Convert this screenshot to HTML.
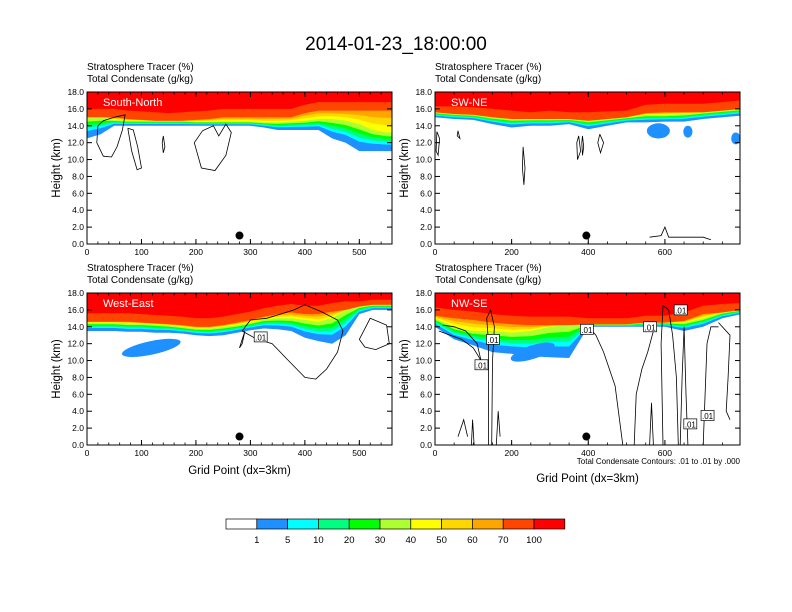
<!DOCTYPE html>
<html><head><meta charset="utf-8"><style>
body{margin:0;background:#fff;}
svg{display:block;font-family:"Liberation Sans",Arial,sans-serif;}
</style></head><body>
<svg id="chart" width="792" height="612" viewBox="0 0 792 612">
<text x="396" y="50" font-size="19" text-anchor="middle">2014-01-23_18:00:00</text>
<g id="panels"></g>
<g id="colorbar"></g>
</svg>
<script>
// colour levels
const levelLabels = ["1","5","10","20","30","40","50","60","70","100"];
const levelColors = ["#ffffff","#1e90ff","#00ffff","#00ff80","#00ff00","#adff2f","#ffff00","#ffd700","#ffa500","#ff4500","#ff0000"];

// Panel 1 South-North (x 0..550 step 25)
const p1X = [0,25,50,75,100,125,150,175,200,225,250,275,300,325,350,375,400,425,450,475,500,525,550];
const p1Bottom = [12.5,13,14,14,14,14,14,14,14,14,14,14,14,13.8,13.5,13.5,13.5,13.5,12.5,12,11,11,11];
const p1Mid = [15,15,14.7,14.6,14.6,14.6,14.6,14.6,14.5,14.5,14.5,14.5,14.5,14.4,14.4,14.5,14.6,14.8,14.8,14.6,14.2,13.5,13.2];
const p1Top = [16,16,16,15.8,15.7,15.6,15.5,15.6,15.7,15.8,16,16,16,16,16,16,16.5,16.8,16.8,16.8,16.8,16.8,16.8];
// Panel 2 SW-NE (x 0..800 step 50)
const p2X = [0,50,100,150,200,250,300,350,400,450,500,550,600,650,700,750,800];
const p2Bottom = [15,14.8,14.7,14.2,13.8,14,14,14.2,13.6,14,14.4,14.4,14.5,14.5,14.8,15,15.2];
const p2Mid = [15.6,15.4,15.3,15,14.8,14.8,14.8,14.8,14.6,14.8,15,15.3,15.3,15.4,15.6,15.8,16];
const p2Top = [16.3,16.3,16.2,16,15.8,15.6,15.8,15.6,15.6,15.7,15.8,16.5,16.6,16.6,16.6,16.8,17];
// Panel 3 West-East
const p3X = p1X;
const p3Bottom = [13.5,13.5,13.5,13.4,13.4,13.3,13.3,13.2,13,12.9,13,13.3,13.6,13.8,13.7,13.5,12.7,12.3,12,13,15.5,16,16];
const p3Mid = [14.5,14.5,14.5,14.4,14.4,14.3,14.2,14.0,13.8,13.8,14,14.2,14.5,14.9,15,15,14.8,14.6,15,16,16.4,16.6,16.6];
const p3Top = [15.6,15.6,15.6,15.6,15.5,15.4,15.3,15.2,15,15,15.2,15.5,15.8,16.2,16.5,16.7,16.5,16.5,16.8,17,17,17.2,17.2];
// Panel 4 NW-SE
const p4X = p2X;
const p4Bottom = [14,12.5,11.8,11,10.8,10.5,10.4,10.3,14,14,14,14,14,13.5,14,15,15.5];
const p4Mid = [15,14,13.5,13.5,13.3,13.5,14,14.2,14.3,14.3,14.3,14.5,14.5,14.5,15,15.7,16];
const p4Top = [16.3,16,15.8,15.5,15.3,15.2,15.2,15.2,15.0,15,15,15.3,15.3,15.7,16.5,16.7,16.8];

const lowerFrac=[0,0.35,0.5,0.65,0.8,1];
const NS="http://www.w3.org/2000/svg";
function mk(tag,attrs,parent){const e=document.createElementNS(NS,tag);for(const k in attrs)e.setAttribute(k,attrs[k]);if(parent)parent.appendChild(e);return e;}

const panels=[
 {id:"south-north",label:"South-North",x0:87,y0:92,xmax:560,xticks:[0,100,200,300,400,500],minor:20,X:p1X,B:p1Bottom,M:p1Mid,T:p1Top,dot:280,xtitle:false,
  blobs:[],
  contours:[[[20,14],[30,14.6],[50,15],[70,15.3],[65,13.5],[55,11.5],[45,10.3],[30,10.4],[18,12],[20,14]],
   [[75,13.7],[85,13.5],[93,11.5],[100,9],[92,8.8],[82,11],[75,13.7]],
   [[212,13.4],[232,14],[242,12.8],[255,14.2],[265,13.2],[255,10.5],[235,8.7],[210,9],[197,12],[212,13.4]],
   [[140,12.8],[143,11.5],[140,10.8],[138,12],[140,12.8]]],
  labels:[]},
 {id:"sw-ne",label:"SW-NE",x0:435,y0:92,xmax:796,xticks:[0,200,400,600],minor:50,X:p2X,B:p2Bottom,M:p2Mid,T:p2Top,dot:395,xtitle:false,
  blobs:[[583,13.4,30,0.9],[660,13.3,12,0.7],[785,12.5,12,0.7]],
  contours:[[[5,13.3],[12,12.5],[8,10.5],[3,11],[5,13.3]],[[60,13.4],[65,12.5],[58,12.8],[60,13.4]],
   [[230,11.5],[235,9],[232,7],[228,9],[230,11.5]],[[375,12.8],[380,11],[372,10],[370,12],[375,12.8]],
   [[385,12.8],[388,11.5],[385,10.5],[383,12],[385,12.8]],[[430,13],[440,12],[432,10.8],[425,12],[430,13]],
   [[560,0.8],[590,1],[600,2],[610,0.8],[700,0.8],[720,0.5]]],
  labels:[]},
 {id:"west-east",label:"West-East",x0:87,y0:293,xmax:560,xticks:[0,100,200,300,400,500],minor:20,X:p3X,B:p3Bottom,M:p3Mid,T:p3Top,dot:280,xtitle:true,
  blobs:[[118,11.5,55,0.8,-12]],
  contours:[[[285,13.5],[300,14.8],[330,15],[350,15.4],[380,16],[400,16.6],[430,15.8],[460,14.8],[470,13.5],[460,11],[440,9],[420,7.8],[400,8],[370,10],[340,12],[310,12.6],[285,13.5]],
   [[500,12.5],[520,15],[550,14.2],[555,12],[530,11.3],[510,11.6],[500,12.5]],
   [[285,12],[290,13.5],[280,11.5],[285,12]]],
  labels:[[318,12.8]]},
 {id:"nw-se",label:"NW-SE",x0:435,y0:293,xmax:796,xticks:[0,200,400,600],minor:50,X:p4X,B:p4Bottom,M:p4Mid,T:p4Top,dot:395,xtitle:true,
  blobs:[[255,11,60,0.8,-18]],
  contours:[[[380,14],[400,14],[420,13],[440,11],[470,7],[490,0]],
   [[520,0],[525,6],[540,9],[555,11],[570,13.5],[560,14]],
   [[140,0],[140,12],[135,15],[145,16],[155,14],[150,10],[148,0]],
   [[595,0],[590,12],[595,16.5],[610,16],[620,13],[630,8],[635,0]],
   [[700,0],[705,6],[710,12],[720,14],[740,14]],[[740,14.5],[770,13],[765,8],[760,4],[770,3]],
   [[10,13.5],[40,13],[70,12.5],[100,11.5],[120,10],[110,12],[80,13.5],[50,14],[20,14.2]],
   [[60,1],[75,3],[85,1]],[[95,0],[98,3],[102,0]],[[160,0],[165,4],[170,1]],
   [[640,0],[645,8],[650,14],[655,6],[660,0]],[[560,0],[565,5],[570,0]]],
  labels:[[120,9.5],[150,12.5],[395,13.7],[560,14],[640,16],[710,3.5],[665,2.5]]}
];
const W=305,H=152;
const root=document.getElementById("panels");
panels.forEach(p=>{
  const g=mk("g",{},root);
  
  
  const sx=v=>p.x0+v/p.xmax*W, sy=k=>p.y0+H-k/18*H;
  const cid="clip-"+p.id;
  const cp=mk("clipPath",{id:cid},g); mk("rect",{x:p.x0,y:p.y0,width:W,height:H},cp);
  const fg=mk("g",{"clip-path":"url(#"+cid+")"},g);
  
  
  const bound=(k,i)=>{
    if(k<=5) return p.B[i]+(p.M[i]-p.B[i])*lowerFrac[k];
    if(k===9) return p.T[i];
    const t2=Math.max(p.M[i],p.T[i]-1.0);
    return p.M[i]+(t2-p.M[i])*(k-5)/3;
  };
  for(let k=0;k<10;k++){
    const pts=p.X.map((x,i)=>sx(x).toFixed(1)+","+sy(bound(k,i)).toFixed(1));
    const n=p.X.length-1;
    pts.push(sx(p.X[n]+50)+","+sy(bound(k,n)).toFixed(1));
    pts.push(sx(p.X[n]+50)+","+(p.y0-2)); pts.push(sx(-10)+","+(p.y0-2)); pts.unshift(sx(-10)+","+sy(bound(k,0)).toFixed(1));
    const poly=mk("polygon",{points:pts.join(" "),fill:levelColors[k+1]},fg);
    
    
  }
  p.blobs.forEach(b=>{
    const cx=sx(b[0]),cy=sy(b[1]);
    const e=mk("ellipse",{cx:cx,cy:cy,rx:b[2]/p.xmax*W,ry:b[3]/18*H,fill:"#1e90ff",transform:"rotate("+(b[4]||0)+" "+cx+" "+cy+")"},fg);
    
    
  });
  p.contours.forEach(c=>{
    const pl=mk("polyline",{points:c.map(q=>sx(q[0]).toFixed(1)+","+sy(q[1]).toFixed(1)).join(" "),fill:"none",stroke:"#000","stroke-width":"0.8"},fg);
    
    
  });
  p.labels.forEach(l=>{
    const x=sx(l[0]),y=sy(l[1]);
    mk("rect",{x:x-6,y:y-5,width:13,height:10,fill:"#fff",stroke:"#000","stroke-width":"0.7"},fg);
    const t=mk("text",{x:x+0.5,y:y+3.5,"font-size":"8","text-anchor":"middle"},fg); t.textContent=".01";
    
    
  });
  const lab=mk("text",{x:p.x0+16,y:p.y0+14,"font-size":"11",fill:"#fff"},g); lab.textContent=p.label;
  
  
  const dot=mk("circle",{cx:sx(p.dot),cy:sy(1),r:4,fill:"#000"},g);
  
  
  mk("rect",{x:p.x0,y:p.y0,width:W,height:H,fill:"none",stroke:"#000","stroke-width":"1"},g);
  for(let k=0;k<=18;k+=2){
    const y=sy(k);
    mk("line",{x1:p.x0,x2:p.x0+5,y1:y,y2:y,stroke:"#000"},g);
    mk("line",{x1:p.x0+W,x2:p.x0+W-5,y1:y,y2:y,stroke:"#000"},g);
    const t=mk("text",{x:p.x0-3,y:y+3,"font-size":"8.5","text-anchor":"end"},g); t.textContent=k.toFixed(1);
    
    
  }
  for(let v=0;v<=p.xmax;v+=p.minor){
    const x=sx(v);
    mk("line",{x1:x,x2:x,y1:p.y0+H,y2:p.y0+H-2.5,stroke:"#000","stroke-width":"0.8"},g);
    mk("line",{x1:x,x2:x,y1:p.y0,y2:p.y0+2.5,stroke:"#000","stroke-width":"0.8"},g);
  }
  p.xticks.forEach(v=>{
    const x=sx(v);
    mk("line",{x1:x,x2:x,y1:p.y0+H,y2:p.y0+H-5,stroke:"#000"},g);
    mk("line",{x1:x,x2:x,y1:p.y0,y2:p.y0+5,stroke:"#000"},g);
    const t=mk("text",{x:x,y:p.y0+H+11,"font-size":"8.5","text-anchor":"middle"},g); t.textContent=v;
    
    
  });
  const s1=mk("text",{x:p.x0,y:p.y0-22,"font-size":"10"},g); s1.textContent="Stratosphere Tracer   (%)";
  
  
  const s2=mk("text",{x:p.x0,y:p.y0-10,"font-size":"10"},g); s2.textContent="Total Condensate   (g/kg)";
  
  
  const yt=mk("text",{x:0,y:0,"font-size":"11.5","text-anchor":"middle",transform:"translate("+(p.x0-27)+","+(p.y0+H/2)+") rotate(-90)"},g); yt.textContent="Height (km)";
  
  
  if(p.xtitle){
    const off = p.id==="nw-se"?37:29;
    const xt=mk("text",{x:p.x0+W/2,y:p.y0+H+off,"font-size":"11.5","text-anchor":"middle"},g); xt.textContent="Grid Point (dx=3km)";
    
    
  }
  if(p.id==="nw-se"){
    const ci=mk("text",{x:p.x0+W,y:p.y0+H+19,"font-size":"8","text-anchor":"end"},g); ci.textContent="Total Condensate Contours: .01 to .01 by .000";
    
    
  }
});
const cb=document.getElementById("colorbar");
const bx0=226,bw=30.8,by=519,bh=10;
levelColors.forEach((c,i)=>{
  const r=mk("rect",{x:bx0+i*bw,y:by,width:bw,height:bh,fill:c,stroke:"#000","stroke-width":"0.7"},cb);
  
  
});
levelLabels.forEach((l,i)=>{
  const t=mk("text",{x:bx0+(i+1)*bw,y:by+bh+14,"font-size":"9.5","text-anchor":"middle"},cb); t.textContent=l;
  
  
});
</script>
</body></html>
